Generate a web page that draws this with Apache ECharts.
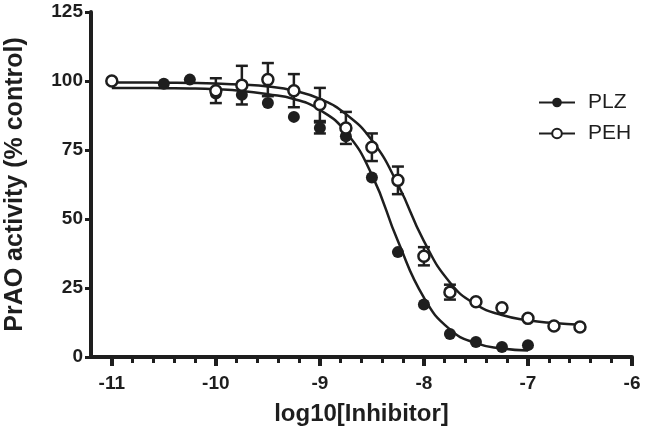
<!DOCTYPE html>
<html><head><meta charset="utf-8">
<script src="https://cdn.jsdelivr.net/npm/echarts@6/dist/echarts.min.js"></script>
<style>html,body{margin:0;padding:0;background:#fff}#c{width:645px;height:438px}</style>
</head><body><div id="c"></div>
<script>
// Measured points (mean) and error half-widths
const plzX = [-10.5,-10.25,-10,-9.75,-9.5,-9.25,-9,-8.75,-8.5,-8.25,-8,-7.75,-7.5,-7.25,-7];
const plzY = [99,100.5,95.5,95,92,87,83,80,65,38,19,8.3,5.4,3.6,4.3];
const plzErr = [0,0,0,0,0,0,2,0,0,0,0,0,0,0,0];
const pehX = [-11,-10,-9.75,-9.5,-9.25,-9,-8.75,-8.5,-8.25,-8,-7.75,-7.5,-7.25,-7,-6.75,-6.5];
const pehY = [100,96.5,98.5,100.5,96.5,91.5,83,76,64,36.5,23.5,20,17.8,14,11.2,10.9];
const pehErr = [0,4.5,7,6,6,6,5.8,5,5,3.3,2.7,0,0,0,0,0];
// Fitted curves
const plzFitX = [-11,-10.75,-10.5,-10.25,-10,-9.75,-9.5,-9.25,-9,-8.75,-8.5,-8.25,-8,-7.75,-7.5,-7.25,-7];
const plzFitY = [97.5,97.5,97.4,97.3,97,96.4,95.2,93.5,89.5,81.5,66,42,21.5,10,5,3.1,2.4];
const pehFitX = [-11,-10.75,-10.5,-10.25,-10,-9.75,-9.5,-9.25,-9,-8.75,-8.5,-8.25,-8,-7.75,-7.5,-7.25,-7,-6.75,-6.5];
const pehFitY = [99.5,99.5,99.4,99.3,99.1,98.7,98,96.5,93.5,88,78.5,62.5,42,27,19,15.2,13.3,12.3,11.7];
// Axis ticks
const xMajorTicks = [-11,-10,-9,-8,-7,-6];
const yTicks = [0,25,50,75,100,125];

const INK = '#1e1e1e';
const FONT = "'Liberation Sans', Arial, sans-serif";
const zip = (xs, ys) => xs.map((x, i) => [x, ys[i]]);
const xMinorTicks = [];
for (let i = 0; i < xMajorTicks.length - 1; i++) {
  for (let k = 1; k < 5; k++) xMinorTicks.push(+(xMajorTicks[i] + k * 0.2).toFixed(1));
}

function errSeries(xs, ys, es) {
  const data = [];
  xs.forEach((x, i) => { if (es[i] > 0) data.push([x, ys[i] - es[i], ys[i] + es[i]]); });
  return {
    type: 'custom', silent: true, z: 3, data,
    encode: { x: 0, y: [1, 2] },
    renderItem: (params, api) => {
      const lo = api.coord([api.value(0), api.value(1)]);
      const hi = api.coord([api.value(0), api.value(2)]);
      const w = 6, st = { stroke: INK, lineWidth: 2.5 };
      return { type: 'group', children: [
        { type: 'line', shape: { x1: lo[0], y1: lo[1], x2: hi[0], y2: hi[1] }, style: st },
        { type: 'line', shape: { x1: lo[0] - w, y1: lo[1], x2: lo[0] + w, y2: lo[1] }, style: st },
        { type: 'line', shape: { x1: hi[0] - w, y1: hi[1], x2: hi[0] + w, y2: hi[1] }, style: st }
      ]};
    }
  };
}

const chart = echarts.init(document.getElementById('c'), null, { renderer: 'canvas' });
chart.setOption({
  animation: false,
  backgroundColor: '#fff',
  grid: { left: 91, right: 13, top: 12, bottom: 81, outerBoundsMode: 'none' },
  legend: {
    orient: 'vertical', left: 533, top: 87, itemWidth: 36, itemHeight: 12, itemGap: 10,
    data: ['PLZ', 'PEH'],
    textStyle: { fontSize: 21, color: INK, fontFamily: FONT, padding: [0, 0, 0, 8] }
  },
  xAxis: [{
    type: 'value', min: -11.2, max: -6,
    axisLine: { show: true, lineStyle: { color: INK, width: 4 } },
    axisTick: { show: true, customValues: xMajorTicks, length: 9, lineStyle: { color: INK, width: 4 } },
    axisLabel: { customValues: xMajorTicks, margin: 17, fontSize: 19, fontWeight: 'bold', color: INK, fontFamily: FONT },
    splitLine: { show: false },
    name: 'log10[Inhibitor]', nameLocation: 'middle', nameGap: 45,
    nameTextStyle: { fontSize: 24, fontWeight: 'bold', color: INK, fontFamily: FONT }
  }, {
    type: 'value', min: -11.2, max: -6, position: 'bottom',
    axisLine: { show: false },
    axisTick: { show: true, customValues: xMinorTicks, length: 6, lineStyle: { color: INK, width: 3 } },
    axisLabel: { show: false }, splitLine: { show: false }
  }],
  yAxis: {
    type: 'value', min: 0, max: 125, interval: 25,
    axisLine: { show: true, lineStyle: { color: INK, width: 4 } },
    axisTick: { show: true, length: 6, lineStyle: { color: INK, width: 3 } },
    axisLabel: { margin: 8, fontSize: 19, fontWeight: 'bold', color: INK, fontFamily: FONT },
    splitLine: { show: false },
    name: 'PrAO activity (% control)', nameLocation: 'middle', nameGap: 63,
    nameTextStyle: { fontSize: 25, fontWeight: 'bold', color: INK, fontFamily: FONT }
  },
  series: [
    { name: 'PLZ', type: 'line', data: zip(plzFitX, plzFitY), smooth: 0.5,
      showSymbol: false, symbol: 'circle', symbolSize: 12, z: 2, silent: true,
      lineStyle: { color: INK, width: 2.5 }, itemStyle: { color: INK, opacity: 1 } },
    { name: 'PEH', type: 'line', data: zip(pehFitX, pehFitY), smooth: 0.5,
      showSymbol: false, symbol: 'circle', symbolSize: 12, z: 2, silent: true,
      lineStyle: { color: INK, width: 2.5 }, itemStyle: { color: '#fff', borderColor: INK, borderWidth: 2.5, opacity: 1 } },
    errSeries(pehX, pehY, pehErr),
    errSeries(plzX, plzY, plzErr),
    { name: 'PLZ pts', type: 'scatter', data: zip(plzX, plzY), symbol: 'circle', symbolSize: 12, z: 4,
      itemStyle: { color: INK, opacity: 1 } },
    { name: 'PEH pts', type: 'scatter', data: zip(pehX, pehY), symbol: 'circle', symbolSize: 11, z: 5,
      itemStyle: { color: '#fff', borderColor: INK, borderWidth: 2.5, opacity: 1 } }
  ]
});
</script></body></html>
